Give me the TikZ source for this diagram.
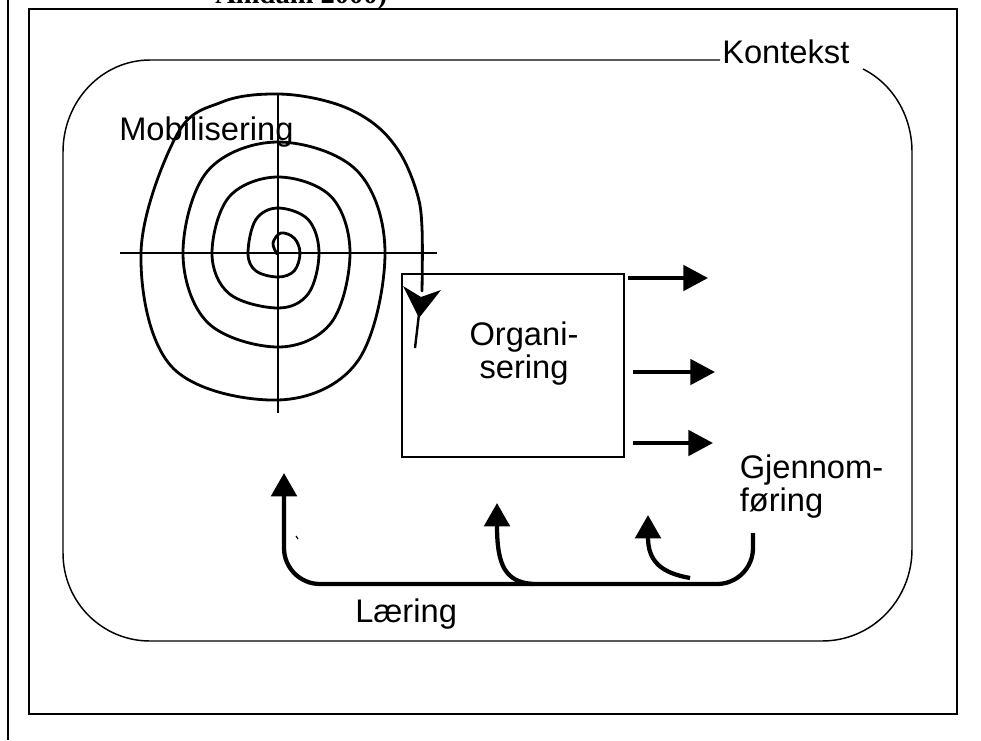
\documentclass[tikz,border=0pt]{standalone}
\usepackage{fontspec}
\setmainfont{Liberation Sans}
\newfontfamily\refserif{Liberation Serif}
\usetikzlibrary{arrows.meta}
\newcommand\lblsize{\fontsize{24.5}{24.75}\selectfont}
\begin{document}
\begin{tikzpicture}[x=0.75pt,y=-0.75pt,
  lbl/.style={font=\lblsize, inner sep=0pt},
  thinframe/.style={line width=1.1pt},
  spiralline/.style={line width=2.1pt, line join=round, line cap=round},
  fatarrow/.style={line width=3pt, -{Triangle[length=18.5pt,width=19pt]}},
  fbarrow/.style={line width=3.2pt, -{Triangle[length=17.5pt,width=19pt]}}]
\useasboundingbox (0,0) rectangle (981,740);
\clip (0,0) rectangle (981,740);
\fill[white] (0,0) rectangle (981,740);

% cut-off caption text at the top
\node[anchor=base west, inner sep=0pt, font=\refserif\bfseries\fontsize{21.4}{24}\selectfont] (cite) at (215,3) {Amdam 2000)};

% page margin line and outer frame
\coordinate (mtop) at (8,0);
\coordinate (mbot) at (8,740);
\draw[line width=1.6pt] (mtop) -- (mbot);
\draw[line width=1.4pt] (29,9) rectangle (957,714);

% context frame (rounded rectangle, open at the label)
\draw[thinframe] (720,60) -- (150,60) .. controls (102,60) and (63,101) .. (63,152)
  -- (63,553) .. controls (63,602) and (102,641) .. (150,641)
  -- (822,641) .. controls (872,641) and (912,600) .. (912,549)
  -- (912,152) .. controls (912,116) and (893,84) .. (863,69);
\node[lbl, anchor=base west] (kontekst) at (722,63) {Kontekst};

% crosshair
\coordinate (hl) at (120,253);
\coordinate (hr) at (437,253);
\coordinate (vt) at (278,95);
\coordinate (vb) at (278,413);
\draw[line width=1.4pt] (hl) -- (hr);
\draw[line width=1.4pt] (vt) -- (vb);

% spiral
\draw[spiralline] plot[smooth, tension=0.6] coordinates {
 (277,254) (273,243) (281,233)
 (294.3,238.2) (300,253) (294.3,270.8) (278,277) (255.8,270.8) (248,253)
 (255.8,219.7) (278,208) (308.3,219.7) (319,253) (308.3,293.7) (278,308) (229.2,293.7) (212,253)
 (229.2,196.8) (278,177) (331.3,196.8) (350,253) (331.3,322.6) (278,347) (207.7,322.6) (183,253)
 (207.7,170.9) (278,142) (357.2,170.9) (385,253) (357.2,361.8) (278,400) (172,367) (141,253)
 (176.6,135.3) (222,102) (278,94) (333,103) (373,123) (400,153) (417,193) (422,228) (422,291)};
\fill (403,286) -- (419,318) -- (441,290) -- (421,297) -- cycle;
\coordinate (sp1) at (419,314);
\coordinate (sp2) at (415,348);
\draw[line width=1.8pt] (sp1) -- (sp2);
\node[lbl, anchor=base west] (mob) at (119,140) {Mobilisering};

% organisation box
\node[draw, thinframe, minimum width=166.5pt, minimum height=137.25pt, inner sep=0pt] (org) at (513,365.5) {};
\node[lbl, align=center] (orgtxt) at (524,354) {Organi-\\sering};

% output arrows
\coordinate (o1) at (628,278); \coordinate (t1) at (708,278);
\coordinate (o2) at (633,372); \coordinate (t2) at (715,372);
\coordinate (o3) at (633,443); \coordinate (t3) at (713,443);
\draw[fatarrow] (o1) -- (t1);
\draw[fatarrow] (o2) -- (t2);
\draw[fatarrow] (o3) -- (t3);

\node[lbl, align=left] (gj) at (811.5,487) {Gjennom-\\føring};

% learning feedback
\coordinate (gfoot) at (753,533);
\coordinate (lt) at (284,473);
\draw[fbarrow, rounded corners=27pt] (gfoot) |- (284,584) -- (lt);
\coordinate (bm) at (533,584);
\coordinate (bt) at (497,503);
\draw[fbarrow] (bm) .. controls (505,582) and (497,565) .. (bt);
\coordinate (cs) at (690,578);
\coordinate (ct) at (648,515);
\draw[fbarrow] (cs) .. controls (662,573) and (648,562) .. (ct);
\draw[line width=0.9pt] (296,536) -- (298,539);
\node[lbl, anchor=base west] (laering) at (355,622) {Læring};
\end{tikzpicture}
\end{document}
